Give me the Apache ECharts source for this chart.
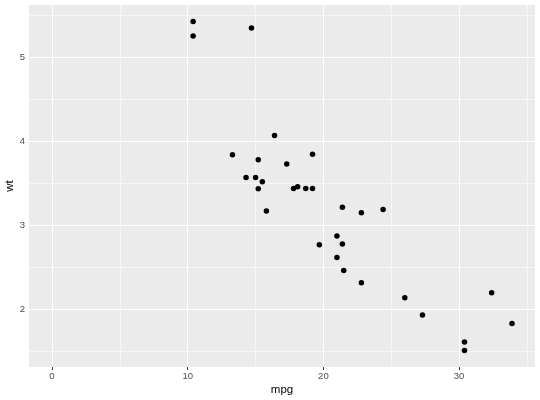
<!DOCTYPE html>
<html><head><meta charset="utf-8">
<script src="https://cdn.jsdelivr.net/npm/echarts@6/dist/echarts.min.js"></script>
<style>html,body{margin:0;padding:0;background:#fff}#c{width:540px;height:400px}</style>
</head><body><div id="c"></div>
<script>
const mpg = [21.0,21.0,22.8,21.4,18.7,18.1,14.3,24.4,22.8,19.2,17.8,16.4,17.3,15.2,10.4,10.4,14.7,32.4,30.4,33.9,21.5,15.5,15.2,13.3,19.2,27.3,26.0,30.4,15.8,19.7,15.0,21.4];
const wt = [2.620,2.875,2.320,3.215,3.440,3.460,3.570,3.190,3.150,3.440,3.440,4.070,3.730,3.780,5.250,5.424,5.345,2.200,1.615,1.835,2.465,3.520,3.435,3.840,3.845,1.935,2.140,1.513,3.170,2.770,3.570,2.780];
const xMajor = [0,10,20,30];
const xMinor = [5,15,25,35];
const yMajor = [2,3,4,5];
const yMinor = [1.5,2.5,3.5,4.5,5.5];

const xLo = Math.min(0, Math.min(...mpg)), xHi = Math.max(...mpg);
const yLo = Math.min(...wt), yHi = Math.max(...wt);
const xPad = (xHi - xLo) * 0.05, yPad = (yHi - yLo) * 0.05;

const gridLines = [];
xMinor.forEach(v => gridLines.push({xAxis: v, lineStyle: {width: 0.55}}));
yMinor.forEach(v => gridLines.push({yAxis: v, lineStyle: {width: 0.55}}));
xMajor.forEach(v => gridLines.push({xAxis: v, lineStyle: {width: 1.1}}));
yMajor.forEach(v => gridLines.push({yAxis: v, lineStyle: {width: 1.1}}));

const chart = echarts.init(document.getElementById('c'), null, {renderer: 'canvas'});
const font = 'Liberation Sans, Arial, Helvetica, sans-serif';
chart.setOption({
  animation: false,
  backgroundColor: '#fff',
  grid: {left: 29, right: 5, top: 5, bottom: 33, show: true, backgroundColor: '#EBEBEB', borderWidth: 0,
         containLabel: false, outerBoundsMode: 'none'},
  xAxis: {
    type: 'value', min: xLo - xPad, max: xHi + xPad,
    name: 'mpg', nameLocation: 'middle', nameGap: 17, nameMoveOverlap: false,
    nameTextStyle: {color: '#000', fontSize: 11.5, fontFamily: font},
    axisLine: {show: false},
    axisTick: {show: true, length: 3, lineStyle: {color: '#333', width: 1}, customValues: xMajor},
    axisLabel: {color: '#4D4D4D', fontSize: 9.5, fontFamily: font, margin: 4, customValues: xMajor},
    splitLine: {show: false}
  },
  yAxis: {
    type: 'value', min: yLo - yPad, max: yHi + yPad,
    name: 'wt', nameLocation: 'middle', nameGap: 13, nameRotate: 90, nameMoveOverlap: false,
    nameTextStyle: {color: '#000', fontSize: 11.5, fontFamily: font},
    axisLine: {show: false},
    axisTick: {show: true, length: 3, lineStyle: {color: '#333', width: 1}, customValues: yMajor},
    axisLabel: {color: '#4D4D4D', fontSize: 9.5, fontFamily: font, margin: 4, customValues: yMajor},
    splitLine: {show: false}
  },
  series: [
    {
      type: 'scatter', data: [], silent: true, z: 1,
      markLine: {silent: true, symbol: 'none', label: {show: false}, animation: false,
        lineStyle: {color: '#fff', type: 'solid'}, emphasis: {disabled: true}, data: gridLines}
    },
    {
      type: 'scatter', z: 5,
      data: mpg.map((m, i) => [m, wt[i]]),
      symbol: 'circle', symbolSize: 5.5,
      itemStyle: {color: '#000', opacity: 1}
    }
  ]
});
</script></body></html>
